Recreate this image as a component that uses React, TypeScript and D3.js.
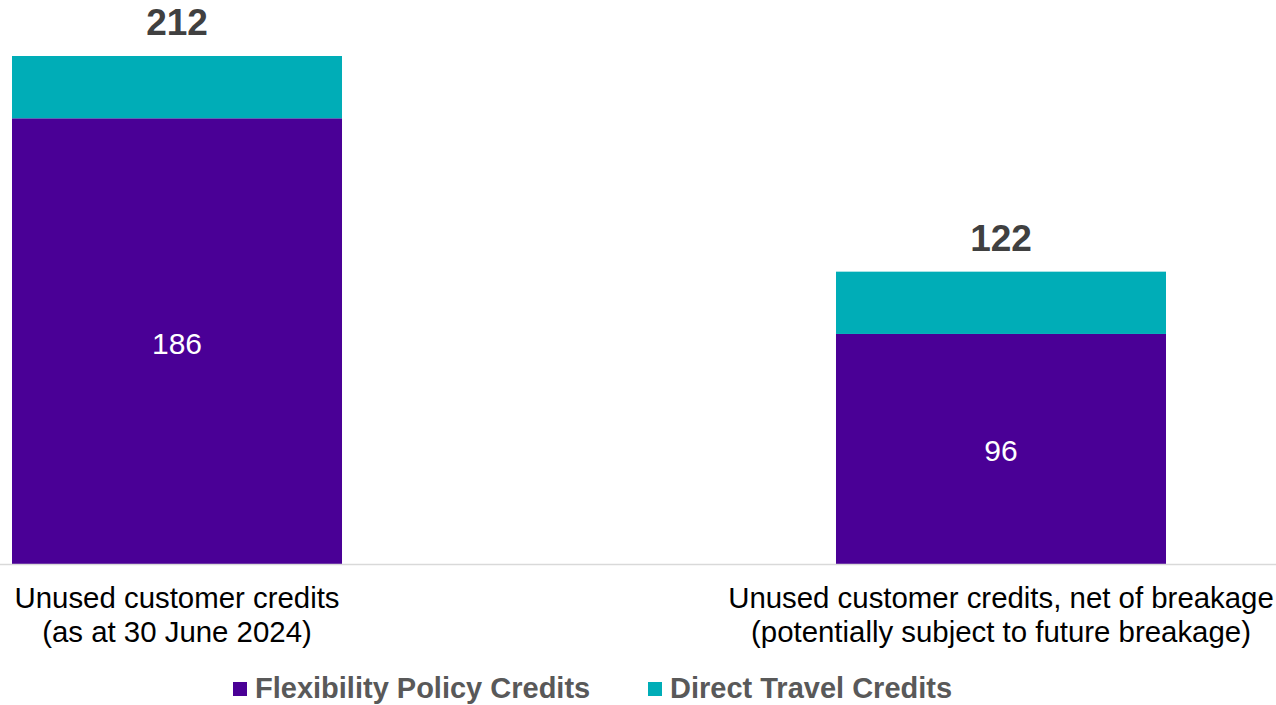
import React from "react";
import * as d3 from "d3";

const categories = [
  ["Unused customer credits", "(as at 30 June 2024)"],
  ["Unused customer credits, net of breakage", "(potentially subject to future breakage)"],
];
const flexibilityValues = [186, 96];
const directValues = [26, 26];
const totals = [212, 122];
const seriesNames = ["Flexibility Policy Credits", "Direct Travel Credits"];
const colors = ["#4A0096", "#00ADB7"];

const W = 1276;
const H = 705;
const FONT = "'Liberation Sans', Arial, Helvetica, sans-serif";

export default function App() {
  const keys = categories.map((c) => c.join(" "));
  const x = d3.scaleBand<string>().domain(keys).range([12, 1166]).paddingInner(0.5995).paddingOuter(0);
  const y = d3.scaleLinear().domain([0, 212]).range([564, 56]);

  const rows = keys.map((k, i) => ({ key: k, flex: flexibilityValues[i], direct: directValues[i] }));
  const stack = d3.stack<any>().keys(["flex", "direct"]);
  const series = stack(rows);

  return (
    <svg width={W} height={H} style={{ position: "absolute", left: 0, top: 0, background: "#fff" }} fontFamily={FONT}>
      {series.map((s, si) =>
        s.map((d, i) => (
          <rect
            key={`${si}-${i}`}
            x={x(keys[i])!}
            width={x.bandwidth()}
            y={y(d[1])}
            height={y(d[0]) - y(d[1])}
            fill={colors[si]}
          />
        ))
      )}
      <line x1={0} x2={W} y1={564.5} y2={564.5} stroke="#d9d9d9" strokeWidth={1.5} />
      {keys.map((k, i) => {
        const cx = x(k)! + x.bandwidth() / 2;
        return (
          <g key={k}>
            <text x={cx} y={y(totals[i]) - 21} textAnchor="middle" fontSize={37} fontWeight="bold" fill="#404040">
              {totals[i]}
            </text>
            <text
              x={cx}
              y={(y(0) + y(flexibilityValues[i])) / 2 + 2}
              textAnchor="middle"
              dominantBaseline="central"
              fontSize={30}
              fill="#ffffff"
            >
              {flexibilityValues[i]}
            </text>
            <text x={cx} y={608} textAnchor="middle" fontSize={29.4} fill="#000">
              {categories[i][0]}
            </text>
            <text x={cx} y={641.7} textAnchor="middle" fontSize={29.4} fill="#000">
              {categories[i][1]}
            </text>
          </g>
        );
      })}
      {seriesNames.map((n, i) => {
        const lx = [233, 648][i];
        return (
          <g key={n}>
            <rect x={lx} y={682} width={14} height={14} fill={colors[i]} />
            <text x={lx + 22} y={698} fontSize={29} fontWeight="bold" fill="#595959">
              {n}
            </text>
          </g>
        );
      })}
    </svg>
  );
}
